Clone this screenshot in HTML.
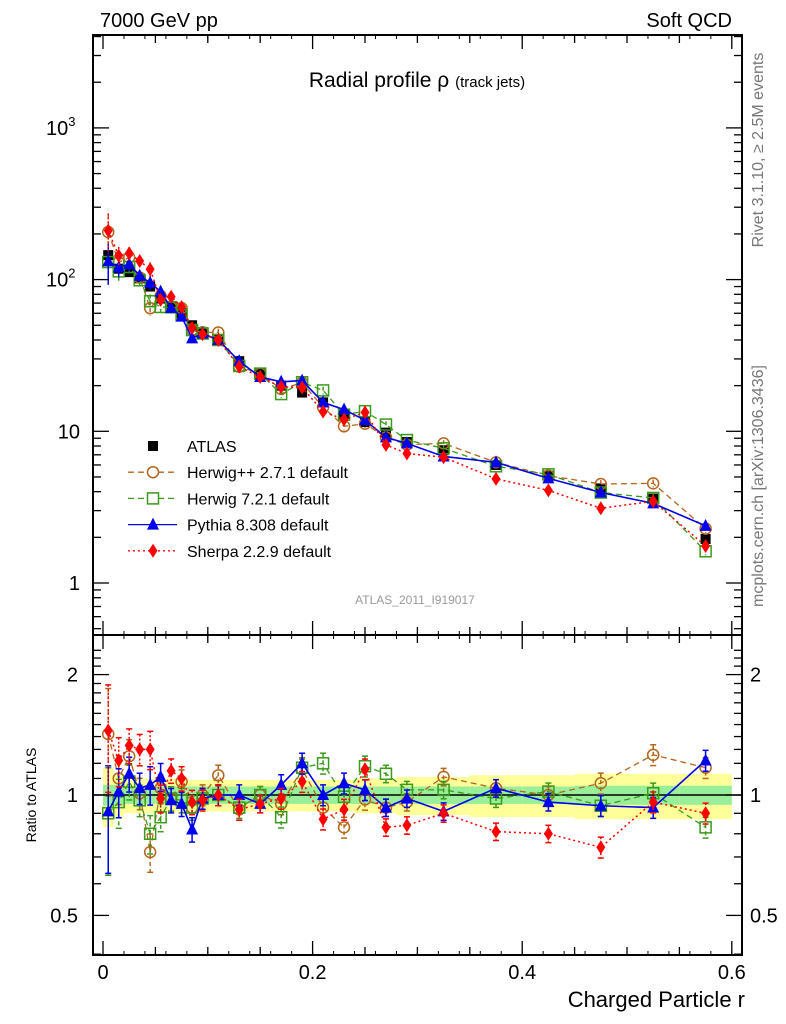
<!DOCTYPE html>
<html><head><meta charset="utf-8">
<style>
html,body{margin:0;padding:0;background:#fff;}
svg{display:block;font-family:"Liberation Sans",sans-serif;}
</style></head>
<body>
<svg id="chart" width="786" height="1024" viewBox="0 0 786 1024" xmlns="http://www.w3.org/2000/svg">
<g id="bands"></g>
<g id="marks"></g>
<g id="axes"></g>
<text x="100" y="27" font-size="20">7000 GeV pp</text>
<text x="732" y="27" font-size="20" text-anchor="end">Soft QCD</text>
<text x="417" y="87" font-size="21" text-anchor="middle">Radial profile ρ <tspan font-size="15">(track jets)</tspan></text>
<text x="415" y="604" font-size="12" fill="#999" text-anchor="middle">ATLAS_2011_I919017</text>
<text transform="translate(763,150) rotate(-90)" font-size="16" fill="#777" text-anchor="middle">Rivet 3.1.10, ≥ 2.5M events</text>
<text transform="translate(763,486) rotate(-90)" font-size="16" fill="#777" text-anchor="middle">mcplots.cern.ch [arXiv:1306.3436]</text>
<text transform="translate(36,795) rotate(-90)" font-size="14" text-anchor="middle">Ratio to ATLAS</text>
<text x="745" y="1007" font-size="22" text-anchor="end">Charged Particle r</text>
<g id="legend"></g>
</svg>
<script>
const rBins = [0.005,0.015,0.025,0.035,0.045,0.055,0.065,0.075,0.085,0.095,0.11,0.13,0.15,0.17,0.19,0.21,0.23,0.25,0.27,0.29,0.325,0.375,0.425,0.475,0.525,0.575];
const atlasVals = [145,118,112,102,90,75,67,60,50,45,40,29,24,20,18,15.5,13,11.5,9.8,8.5,7.5,6.0,5.1,4.2,3.6,1.95];
const herwigppRatio = [1.42,1.10,1.25,1.01,0.72,1.04,0.98,1.08,0.93,1.0,1.12,0.92,1.0,0.95,1.16,0.93,0.83,0.975,0.93,0.96,1.11,1.04,1.0,1.07,1.26,1.17];
const herwig7Ratio = [0.90,0.96,1.08,0.97,0.80,0.88,0.98,0.97,0.93,0.98,1.0,0.93,1.0,0.88,1.17,1.2,0.99,1.18,1.13,1.03,1.03,0.98,1.02,0.94,1.01,0.83];
const pythiaRatio = [0.91,1.02,1.13,1.04,1.06,1.11,0.97,0.95,0.82,0.98,1.0,1.0,0.95,1.06,1.2,1.0,1.07,1.03,0.93,0.98,0.91,1.04,0.96,0.94,0.93,1.22];
const sherpaRatio = [1.45,1.22,1.33,1.30,1.30,0.98,1.15,1.10,0.96,0.97,1.0,0.92,0.95,0.98,1.08,0.87,0.92,1.16,0.83,0.84,0.90,0.81,0.80,0.74,0.96,0.90];
const statBand = [0.06,0.06,0.05,0.05,0.05,0.05,0.05,0.05,0.05,0.05,0.05,0.05,0.05,0.05,0.05,0.05,0.05,0.05,0.05,0.05,0.05,0.05,0.05,0.055,0.055,0.055];
const totBand = [0.17,0.12,0.1,0.1,0.1,0.1,0.1,0.09,0.09,0.09,0.09,0.09,0.09,0.09,0.09,0.09,0.09,0.1,0.1,0.11,0.11,0.12,0.12,0.13,0.13,0.13];
const mcErr = [0.3,0.14,0.1,0.09,0.11,0.08,0.07,0.07,0.07,0.06,0.06,0.06,0.05,0.06,0.06,0.06,0.06,0.06,0.05,0.05,0.05,0.05,0.05,0.06,0.06,0.06];
const binEdges = [0,0.01,0.02,0.03,0.04,0.05,0.06,0.07,0.08,0.09,0.1,0.12,0.14,0.16,0.18,0.2,0.22,0.24,0.26,0.28,0.3,0.35,0.4,0.45,0.5,0.55,0.6];
const xTickLabels = ["0","0.2","0.4","0.6"];

const NS="http://www.w3.org/2000/svg";
const X0=103, XS=1048;
const LX=93, RX=742, TOP=35, MID=635, BOT=955;
const x = r => X0 + r*XS;
const yMain = v => 583 - Math.log10(v)*151.7;
const yRat = v => 795 - Math.log10(v)*400;
function mk(tag, attrs, parent){const e=document.createElementNS(NS,tag);for(const k in attrs)e.setAttribute(k,attrs[k]);parent.appendChild(e);return e;}
const bands=document.getElementById('bands'), marks=document.getElementById('marks'), axes=document.getElementById('axes'), legend=document.getElementById('legend');

for(let i=0;i<rBins.length;i++){
  const a=x(binEdges[i]), b=x(binEdges[i+1]);
  const t=mk('rect',{x:a,y:yRat(1+totBand[i]),width:b-a,height:yRat(1-totBand[i])-yRat(1+totBand[i]),fill:'#ffff99'},bands);
  
  
  const s=mk('rect',{x:a,y:yRat(1+statBand[i]),width:b-a,height:yRat(1-statBand[i])-yRat(1+statBand[i]),fill:'#99ee99'},bands);
  
  
}
mk('line',{x1:LX,x2:RX,y1:yRat(1),y2:yRat(1),stroke:'#000','stroke-width':1.5},bands);

function marker(type,cx,cy,col,g){
  if(type==='circle') return mk('circle',{cx:cx,cy:cy,r:5.5,fill:'none',stroke:col,'stroke-width':1.5},g);
  if(type==='square') return mk('rect',{x:cx-5.5,y:cy-5.5,width:11,height:11,fill:'none',stroke:col,'stroke-width':1.5},g);
  if(type==='tri') return mk('polygon',{points:`${cx},${cy-7} ${cx-6},${cy+5} ${cx+6},${cy+5}`,fill:col},g);
  if(type==='diamond') return mk('polygon',{points:`${cx},${cy-7} ${cx-4.5},${cy} ${cx},${cy+7} ${cx+4.5},${cy}`,fill:col},g);
  return mk('rect',{x:cx-5,y:cy-5,width:10,height:10,fill:col},g);
}
const series=[
 {name:'herwigpp',ratio:herwigppRatio,col:'#b5651d',dash:'6,4',type:'circle',label:'Herwig++ 2.7.1 default',w:1.3},
 {name:'herwig7',ratio:herwig7Ratio,col:'#3a9a1a',dash:'6,4',type:'square',label:'Herwig 7.2.1 default',w:1.3},
 {name:'pythia',ratio:pythiaRatio,col:'#0000ee',dash:'',type:'tri',label:'Pythia 8.308 default',w:1.6},
 {name:'sherpa',ratio:sherpaRatio,col:'#ff0000',dash:'2,3',type:'diamond',label:'Sherpa 2.2.9 default',w:1.5}
];
const ag=mk('g',{},marks);


rBins.forEach((r,i)=>{
  const m=marker('sq',x(r),yMain(atlasVals[i]),'#000',ag);
  
  
});
series.forEach(s=>{
  const g=mk('g',{},marks);
  
  
  const vals=s.ratio.map((q,i)=>q*atlasVals[i]);
  const ptsM=rBins.map((r,i)=>x(r)+','+yMain(vals[i])).join(' ');
  const ptsR=rBins.map((r,i)=>x(r)+','+yRat(s.ratio[i])).join(' ');
  const la={fill:'none',stroke:s.col,'stroke-width':s.w};
  if(s.dash) la['stroke-dasharray']=s.dash;
  mk('polyline',Object.assign({points:ptsM},la),g);
  mk('polyline',Object.assign({points:ptsR},la),g);
  rBins.forEach((r,i)=>{
    const cx=x(r), e=mcErr[i];
    const ea={stroke:s.col,'stroke-width':1.5}; if(s.dash) ea['stroke-dasharray']=s.dash==='2,3'?'2,2':'4,3';
    mk('line',Object.assign({x1:cx,x2:cx,y1:yMain(vals[i]*(1+e)),y2:yMain(vals[i]*(1-e))},ea),g);
    mk('line',Object.assign({x1:cx,x2:cx,y1:yRat(s.ratio[i]*(1+e)),y2:yRat(s.ratio[i]*(1-e))},ea),g);
    [yRat(s.ratio[i]*(1+e)),yRat(s.ratio[i]*(1-e))].forEach(yy=>mk('line',{x1:cx-3,x2:cx+3,y1:yy,y2:yy,stroke:s.col,'stroke-width':1.5},g));
    const m1=marker(s.type,cx,yMain(vals[i]),s.col,g);
    
    
    const m2=marker(s.type,cx,yRat(s.ratio[i]),s.col,g);
    
    
  });
});

mk('rect',{x:LX,y:TOP,width:RX-LX,height:MID-TOP,fill:'none',stroke:'#000','stroke-width':2},axes);
mk('rect',{x:LX,y:MID,width:RX-LX,height:BOT-MID,fill:'none',stroke:'#000','stroke-width':2},axes);
for(let k=0;k<=12;k++){
  const r=k*0.05, xx=x(r), big=(k%4===0), L=big?14:8;
  [[TOP,1],[MID,-1],[MID,1],[BOT,-1]].forEach(([yy,d])=>mk('line',{x1:xx,x2:xx,y1:yy,y2:yy+d*L,stroke:'#000','stroke-width':1.3},axes));
}
for(let k=0;k<=30;k++){
  const xx=x(k*0.02); if(xx>RX) break;
  [[TOP,1],[MID,-1],[MID,1],[BOT,-1]].forEach(([yy,d])=>mk('line',{x1:xx,x2:xx,y1:yy,y2:yy+d*4,stroke:'#000','stroke-width':1},axes));
}
xTickLabels.forEach((t,i)=>{
  const tx=mk('text',{x:x(i*0.2),y:979,'font-size':20,'text-anchor':'middle'},axes);tx.textContent=t;
  
  
});
for(let d=-1;d<=3;d++){
  for(let m=1;m<10;m++){
    const v=m*Math.pow(10,d), yy=yMain(v); if(yy<TOP||yy>MID) continue;
    const L=m===1?16:8;
    mk('line',{x1:LX,x2:LX+L,y1:yy,y2:yy,stroke:'#000','stroke-width':1.3},axes);
    mk('line',{x1:RX,x2:RX-L,y1:yy,y2:yy,stroke:'#000','stroke-width':1.3},axes);
  }
}
[['1',0],['10',1]].forEach(([t,d])=>{const tx=mk('text',{x:80,y:yMain(Math.pow(10,d))+7,'font-size':20,'text-anchor':'end'},axes);tx.textContent=t;
 
 });
[[2],[3]].forEach(([d])=>{const tx=mk('text',{x:46,y:yMain(Math.pow(10,d))+7,'font-size':20},axes);tx.innerHTML='10<tspan font-size="13" dy="-9">'+d+'</tspan>';
 
 });
for(let v=0.4;v<=2.35;v+=0.1){
  const yy=yRat(v); if(yy<MID||yy>BOT) continue;
  const big=Math.abs(v-0.5)<0.01||Math.abs(v-1)<0.01||Math.abs(v-2)<0.01;
  const L=big?16:8;
  mk('line',{x1:LX,x2:LX+L,y1:yy,y2:yy,stroke:'#000','stroke-width':1.3},axes);
  mk('line',{x1:RX,x2:RX-L,y1:yy,y2:yy,stroke:'#000','stroke-width':1.3},axes);
}
[['2',2],['1',1],['0.5',0.5]].forEach(([t,v])=>{
  const a=mk('text',{x:78,y:yRat(v)+7,'font-size':20,'text-anchor':'end'},axes);a.textContent=t;
  
  
  const b=mk('text',{x:750,y:yRat(v)+7,'font-size':20},axes);b.textContent=t;
  
  
});
const rows=[{label:'ATLAS',type:'sq',col:'#000',dash:null}].concat(series);
rows.forEach((s,i)=>{
  const yy=446+i*26.2;
  const g=mk('g',{},legend);
  
  
  if(s.dash!==null){const a={x1:128,x2:177,y1:yy,y2:yy,stroke:s.col,'stroke-width':1.3}; if(s.dash)a['stroke-dasharray']=s.dash; mk('line',a,g);}
  const m=marker(s.type,153,yy,s.col,g);
  if(s.type==='circle'||s.type==='square') m.setAttribute('fill','#fff');
  const t=mk('text',{x:187,y:yy+6,'font-size':16},g);t.textContent=s.label;
});
</script>
</body></html>
